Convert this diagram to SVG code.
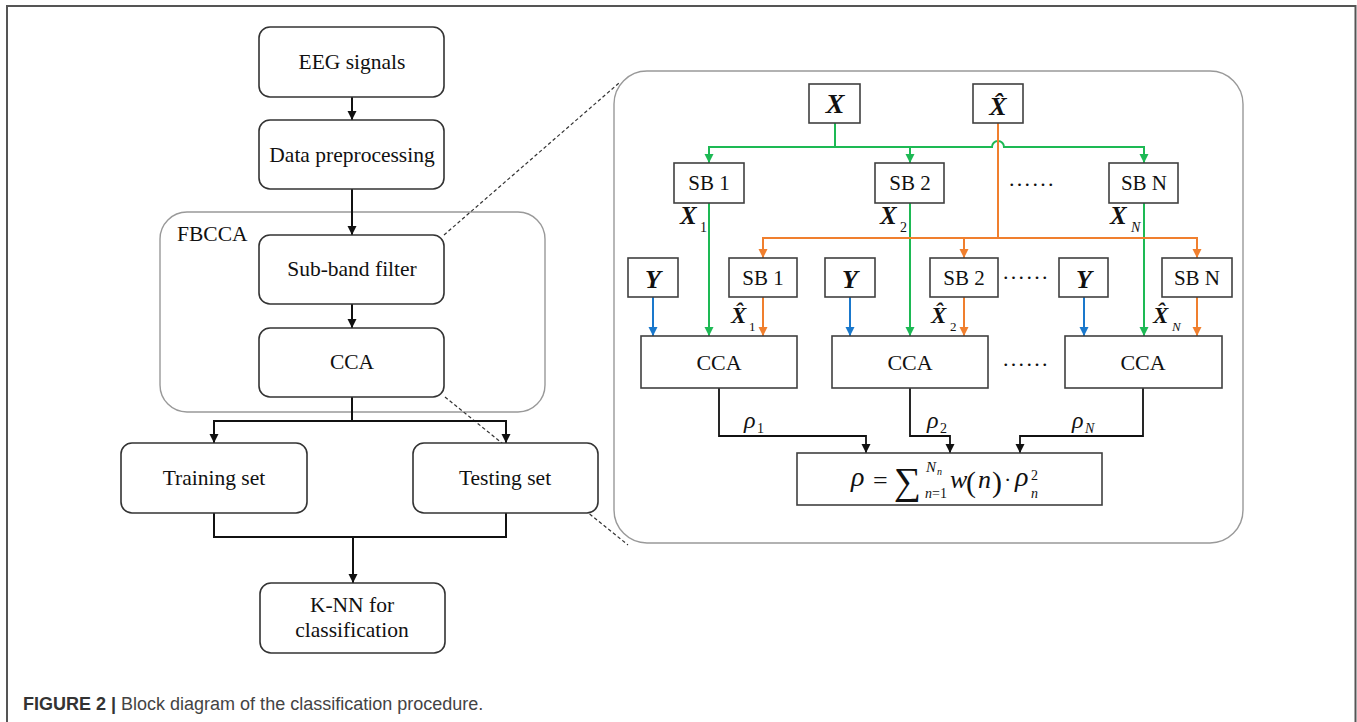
<svg xmlns="http://www.w3.org/2000/svg" width="1357" height="722" viewBox="0 0 1357 722">
<style>
.rb{fill:#fff;stroke:#333;stroke-width:1.6}
.sb{fill:#fff;stroke:#404040;stroke-width:1.6}
.grp{fill:none;stroke:#999;stroke-width:1.4}
.t{font-family:"Liberation Serif","Times New Roman",serif;fill:#111;text-anchor:middle}
.lt{font-size:21.5px}
.rt{font-size:21px}
.bi{font-family:"Liberation Serif","Times New Roman",serif;font-weight:bold;font-style:italic;fill:#111}
.it{font-family:"Liberation Serif","Times New Roman",serif;font-style:italic;fill:#111}
.rg{font-family:"Liberation Serif","Times New Roman",serif;fill:#111}
.blk{fill:none;stroke:#111;stroke-width:2}
.grn{fill:none;stroke:#1db954;stroke-width:2}
.org{fill:none;stroke:#f07f2e;stroke-width:2}
.blu{fill:none;stroke:#1a78cc;stroke-width:2}
.dash{fill:none;stroke:#333;stroke-width:1.2;stroke-dasharray:3.5 2.5}
.dots{font-family:"Liberation Serif","Times New Roman",serif;font-size:22px;letter-spacing:2.3px;fill:#111}
</style>
<defs>
<marker id="aK" markerUnits="userSpaceOnUse" markerWidth="10" markerHeight="10" refX="9" refY="4.5" orient="auto"><path d="M0,0 L9,4.5 L0,9 z" fill="#111"/></marker>
<marker id="aG" markerUnits="userSpaceOnUse" markerWidth="10" markerHeight="10" refX="9" refY="4.5" orient="auto"><path d="M0,0 L9,4.5 L0,9 z" fill="#1db954"/></marker>
<marker id="aO" markerUnits="userSpaceOnUse" markerWidth="10" markerHeight="10" refX="9" refY="4.5" orient="auto"><path d="M0,0 L9,4.5 L0,9 z" fill="#f07f2e"/></marker>
<marker id="aB" markerUnits="userSpaceOnUse" markerWidth="10" markerHeight="10" refX="9" refY="4.5" orient="auto"><path d="M0,0 L9,4.5 L0,9 z" fill="#1a78cc"/></marker>
</defs>
<rect x="0" y="0" width="1357" height="722" fill="#fff"/>
<!-- outer frame -->
<path d="M7,722 L7,6 L1355.5,6 L1355.5,722" fill="none" stroke="#555" stroke-width="2"/>

<!-- groups -->
<g id="fbcca-group">
<rect class="grp" x="160" y="212" width="385" height="200" rx="27"/>
<text class="t lt" x="177" y="241" style="text-anchor:start">FBCCA</text>
</g>
<g id="detail-panel">
<rect class="grp" x="614" y="71" width="629" height="472" rx="33"/>
</g>

<!-- connectors -->
<g id="connectors">
<line class="dash" x1="444" y1="235" x2="619" y2="83"/>
<line class="dash" x1="445" y1="397" x2="628" y2="545"/>
<line class="blk" x1="352" y1="97" x2="352" y2="120" marker-end="url(#aK)"/>
<line class="blk" x1="352" y1="189" x2="352" y2="235" marker-end="url(#aK)"/>
<line class="blk" x1="352" y1="304" x2="352" y2="328" marker-end="url(#aK)"/>
<path class="blk" d="M352,397 V421"/>
<path class="blk" d="M214,421 H506"/>
<line class="blk" x1="214" y1="420" x2="214" y2="443" marker-end="url(#aK)"/>
<line class="blk" x1="506" y1="420" x2="506" y2="443" marker-end="url(#aK)"/>
<path class="blk" d="M214,513 V537 H506 V513"/>
<line class="blk" x1="353" y1="537" x2="353" y2="583" marker-end="url(#aK)"/>

<!-- green: X to SB top row -->
<path class="grn" d="M835,123 V147"/>
<path class="grn" d="M710,147 H992 A6,6 0 0 1 1004,147 H1144"/>
<line class="grn" x1="709" y1="146" x2="709" y2="163" marker-end="url(#aG)"/>
<line class="grn" x1="910" y1="146" x2="910" y2="163" marker-end="url(#aG)"/>
<line class="grn" x1="1144" y1="146" x2="1144" y2="163" marker-end="url(#aG)"/>
<line class="grn" x1="709" y1="203" x2="709" y2="336" marker-end="url(#aG)"/>
<line class="grn" x1="910" y1="203" x2="910" y2="336" marker-end="url(#aG)"/>
<line class="grn" x1="1144" y1="203" x2="1144" y2="336" marker-end="url(#aG)"/>
<!-- orange: X-hat to SB bottom row -->
<path class="org" d="M998,123 V238"/>
<path class="org" d="M763,238 H1197"/>
<line class="org" x1="763" y1="237" x2="763" y2="258" marker-end="url(#aO)"/>
<line class="org" x1="964" y1="237" x2="964" y2="258" marker-end="url(#aO)"/>
<line class="org" x1="1197" y1="237" x2="1197" y2="258" marker-end="url(#aO)"/>
<line class="org" x1="763" y1="297" x2="763" y2="336" marker-end="url(#aO)"/>
<line class="org" x1="964" y1="297" x2="964" y2="336" marker-end="url(#aO)"/>
<line class="org" x1="1197" y1="297" x2="1197" y2="336" marker-end="url(#aO)"/>
<!-- blue: Y to CCA -->
<line class="blu" x1="653" y1="297" x2="653" y2="336" marker-end="url(#aB)"/>
<line class="blu" x1="850" y1="297" x2="850" y2="336" marker-end="url(#aB)"/>
<line class="blu" x1="1084" y1="297" x2="1084" y2="336" marker-end="url(#aB)"/>
<!-- CCA to formula -->
<path class="blk" d="M719,388 V436 H866" style="stroke-width:1.8"/>
<line class="blk" x1="866" y1="435" x2="866" y2="453" marker-end="url(#aK)" style="stroke-width:1.8"/>
<path class="blk" d="M910,388 V436 H950" style="stroke-width:1.8"/>
<line class="blk" x1="950" y1="435" x2="950" y2="453" marker-end="url(#aK)" style="stroke-width:1.8"/>
<path class="blk" d="M1143,388 V436 H1020" style="stroke-width:1.8"/>
<line class="blk" x1="1020" y1="435" x2="1020" y2="453" marker-end="url(#aK)" style="stroke-width:1.8"/>

<!-- connector labels -->
<text class="bi" x="680" y="224" font-size="25">X</text><text class="rg" x="700" y="232" font-size="14">1</text>
<text class="bi" x="880" y="224" font-size="25">X</text><text class="rg" x="900" y="232" font-size="14">2</text>
<text class="bi" x="1110" y="224" font-size="25">X</text><text class="it" x="1131" y="232" font-size="14">N</text>
<text class="bi" x="731" y="323" font-size="23">X&#x302;</text><text class="rg" x="749" y="331" font-size="13">1</text>
<text class="bi" x="931" y="323" font-size="23">X&#x302;</text><text class="rg" x="950" y="331" font-size="13">2</text>
<text class="bi" x="1153" y="323" font-size="23">X&#x302;</text><text class="it" x="1172" y="331" font-size="13">N</text>
<text class="it" x="744" y="428" font-size="24">ρ</text><text class="rg" x="757" y="433" font-size="14">1</text>
<text class="it" x="927" y="428" font-size="24">ρ</text><text class="rg" x="940" y="433" font-size="14">2</text>
<text class="it" x="1072" y="428" font-size="24">ρ</text><text class="it" x="1085" y="433" font-size="14">N</text>
</g>

<!-- left column nodes -->
<g id="eeg-signals"><rect class="rb" x="259" y="27" width="185" height="70" rx="11"/><text class="t lt" x="352" y="69">EEG signals</text></g>
<g id="data-preprocessing"><rect class="rb" x="259" y="120" width="185" height="69" rx="11"/><text class="t lt" x="352" y="162">Data preprocessing</text></g>
<g id="sub-band-filter"><rect class="rb" x="259" y="235" width="185" height="69" rx="11"/><text class="t lt" x="352" y="276">Sub-band filter</text></g>
<g id="cca-main"><rect class="rb" x="259" y="328" width="185" height="69" rx="11"/><text class="t lt" x="352" y="369">CCA</text></g>
<g id="training-set"><rect class="rb" x="121" y="443" width="186" height="70" rx="11"/><text class="t lt" x="214" y="485">Training set</text></g>
<g id="testing-set"><rect class="rb" x="413" y="443" width="185" height="70" rx="11"/><text class="t lt" x="505" y="485">Testing set</text></g>
<g id="knn"><rect class="rb" x="260" y="583" width="185" height="70" rx="11"/><text class="t lt" x="352" y="612">K-NN for</text><text class="t lt" x="352" y="637">classification</text></g>

<!-- right panel nodes -->
<g id="x-input"><rect class="sb" x="809" y="84" width="51" height="39"/><text class="bi" x="835" y="113" font-size="28" text-anchor="middle">X</text></g>
<g id="xhat-input"><rect class="sb" x="973" y="84" width="50" height="39"/><text class="bi" x="998" y="115" font-size="26" text-anchor="middle">X&#x302;</text></g>
<g id="sb1-top"><rect class="sb" x="674" y="163" width="70" height="40"/><text class="t rt" x="709" y="190">SB 1</text></g>
<g id="sb2-top"><rect class="sb" x="875" y="163" width="69" height="40"/><text class="t rt" x="910" y="190">SB 2</text></g>
<g id="sbn-top"><rect class="sb" x="1109" y="163" width="69" height="40"/><text class="t rt" x="1144" y="190">SB N</text></g>
<text class="dots" x="1009" y="186">......</text>
<g id="y1"><rect class="sb" x="628" y="258" width="50" height="39"/><text class="bi" x="653" y="288" font-size="26" text-anchor="middle">Y</text></g>
<g id="sb1-bottom"><rect class="sb" x="729" y="258" width="68" height="39"/><text class="t rt" x="763" y="285">SB 1</text></g>
<g id="y2"><rect class="sb" x="825" y="258" width="50" height="39"/><text class="bi" x="850" y="288" font-size="26" text-anchor="middle">Y</text></g>
<g id="sb2-bottom"><rect class="sb" x="930" y="258" width="68" height="39"/><text class="t rt" x="964" y="285">SB 2</text></g>
<text class="dots" x="1003" y="279">......</text>
<g id="y3"><rect class="sb" x="1059" y="258" width="49" height="39"/><text class="bi" x="1084" y="288" font-size="26" text-anchor="middle">Y</text></g>
<g id="sbn-bottom"><rect class="sb" x="1162" y="258" width="70" height="39"/><text class="t rt" x="1197" y="285">SB N</text></g>
<g id="cca1"><rect class="sb" x="641" y="336" width="156" height="52"/><text class="t" x="719" y="370" font-size="22">CCA</text></g>
<g id="cca2"><rect class="sb" x="832" y="336" width="156" height="52"/><text class="t" x="910" y="370" font-size="22">CCA</text></g>
<text class="dots" x="1003" y="366">......</text>
<g id="ccan"><rect class="sb" x="1065" y="336" width="157" height="52"/><text class="t" x="1143" y="370" font-size="22">CCA</text></g>
<g id="formula"><rect class="sb" x="797" y="453" width="305" height="52"/>
<text class="it" x="851" y="486" font-size="28">ρ</text>
<text class="rg" x="873" y="489" font-size="26">=</text>
<text class="rg" x="894" y="494" font-size="38">∑</text>
<text class="it" x="926" y="472" font-size="15">N</text><text class="it" x="937" y="475" font-size="10">n</text>
<text class="it" x="925" y="498" font-size="14">n</text><text class="rg" x="932" y="498" font-size="14">=1</text>
<text class="it" x="950" y="488" font-size="26">w</text>
<text class="rg" x="966" y="492" font-size="30">(</text>
<text class="it" x="978" y="488" font-size="26">n</text>
<text class="rg" x="992" y="492" font-size="30">)</text>
<text class="rg" x="1004" y="487" font-size="22">·</text>
<text class="it" x="1015" y="486" font-size="28">ρ</text>
<text class="rg" x="1031" y="480" font-size="14">2</text>
<text class="it" x="1031" y="498" font-size="14">n</text>
</g>

<!-- caption -->
<text x="23" y="710" font-family="'Liberation Sans',Arial,sans-serif" font-size="18" fill="#444"><tspan font-weight="bold" fill="#333">FIGURE 2 |</tspan> Block diagram of the classification procedure.</text>
</svg>
